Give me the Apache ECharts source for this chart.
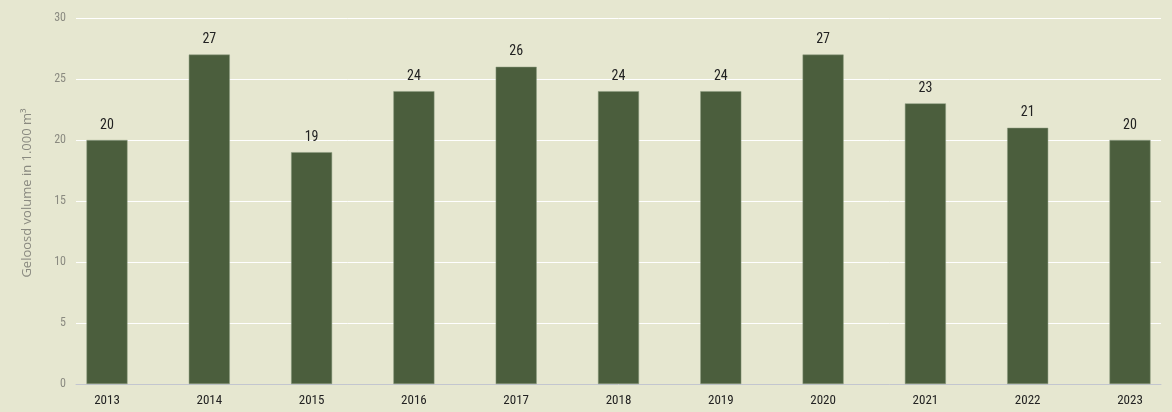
<!DOCTYPE html>
<html><head><meta charset="utf-8">
<script src="https://cdn.jsdelivr.net/npm/echarts@6/dist/echarts.min.js"></script>
<style>html,body{margin:0;padding:0;background:#e6e7d0;}#c{width:1172px;height:412px;}</style>
</head><body><div id="c"></div>
<script>
const years = ['2013','2014','2015','2016','2017','2018','2019','2020','2021','2022','2023'];
const volumes = [20, 27, 19, 24, 26, 24, 24, 27, 23, 21, 20];
const yTicks = [0, 5, 10, 15, 20, 25, 30];
const yTitle = 'Geloosd volume in 1.000 m³';

const narrow = "'Liberation Sans Narrow', 'Roboto Condensed', 'DejaVu Sans Condensed', sans-serif";
const chart = echarts.init(document.getElementById('c'));
chart.setOption({
  backgroundColor: '#e6e7d0',
  animation: false,
  grid: [
    {left: 76, right: 11, top: 18, bottom: 28},
    {left: 107, right: 42, top: 18, bottom: 28}
  ],
  xAxis: [
    {gridIndex: 0, type: 'category', data: years, show: true,
     axisLine: {show: true, lineStyle: {color: '#c3c6cf', width: 1}},
     axisTick: {show: false}, axisLabel: {show: false}, splitLine: {show: false}},
    {gridIndex: 1, type: 'category', data: years, boundaryGap: false,
     axisLine: {show: false}, axisTick: {show: false},
     axisLabel: {color: '#222', fontSize: 13, fontFamily: narrow, margin: 10}}
  ],
  yAxis: [
    {gridIndex: 0, type: 'value', min: yTicks[0], max: yTicks[yTicks.length-1], interval: 5,
     name: yTitle, nameLocation: 'middle', nameGap: 42, nameRotate: 90,
     nameTextStyle: {color: '#8a8a80', fontSize: 13, fontFamily: "'Open Sans', sans-serif", padding: [0, 0, 0, 16]},
     axisLine: {show: false}, axisTick: {show: false},
     axisLabel: {color: '#8a8a80', fontSize: 12, fontFamily: narrow, margin: 10},
     splitLine: {show: true, lineStyle: {color: '#ffffff', width: 1}}},
    {gridIndex: 1, type: 'value', min: yTicks[0], max: yTicks[yTicks.length-1], interval: 5, show: false}
  ],
  series: [{
    type: 'bar', xAxisIndex: 1, yAxisIndex: 1, data: volumes, barWidth: 41, clip: false,
    itemStyle: {color: '#4b5e3d', borderColor: '#8a9a7e', borderWidth: 0.5},
    label: {show: true, position: 'top', distance: 8, color: '#222', fontSize: 14, fontFamily: narrow}
  }]
});
</script></body></html>
